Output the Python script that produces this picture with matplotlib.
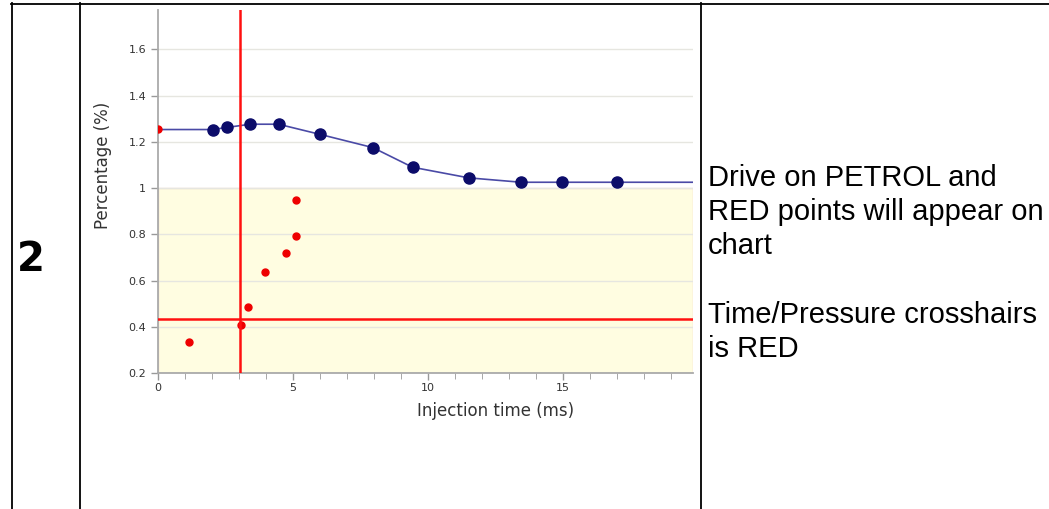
import matplotlib.pyplot as plt
from matplotlib.ticker import MultipleLocator, FuncFormatter

# Data
map_time = [0, 2.02, 2.54, 3.42, 4.46, 6.0, 7.95, 9.42, 11.5, 13.44, 14.97, 16.99, 19.8]
map_pct = [1.253, 1.253, 1.262, 1.276, 1.276, 1.232, 1.175, 1.09, 1.044, 1.025, 1.025, 1.025, 1.025]
map_pts_time = map_time[1:-1]
map_pts_pct = map_pct[1:-1]

red_time = [0, 1.15, 3.08, 3.32, 3.95, 4.74, 5.1, 5.1]
red_pct = [1.255, 0.332, 0.406, 0.485, 0.638, 0.717, 0.791, 0.948]

cross_time = 3.05
cross_pct = 0.432

y_ticks = [0.2, 0.4, 0.6, 0.8, 1.0, 1.2, 1.4, 1.6]
x_ticks = [0, 5, 10, 15]

note_text = ("Drive on PETROL and\nRED points will appear on\nchart\n\n"
             "Time/Pressure crosshairs\nis RED")
row_label = "2"

W, H = 1049, 509
fig = plt.figure(figsize=(W / 100, H / 100), dpi=100)

# table borders
def hline(y, x0, x1):
    fig.add_artist(plt.Line2D([x0 / W, x1 / W], [1 - y / H, 1 - y / H], color='black', lw=1.3))

def vline(x, y0, y1):
    fig.add_artist(plt.Line2D([x / W, x / W], [1 - y0 / H, 1 - y1 / H], color='black', lw=1.3))

hline(3.5, 11, W)
vline(11.5, 3, H)
vline(79.5, 3, H)
vline(700.5, 3, H)

fig.text(31 / W, 1 - 260 / H, row_label, ha='center', va='center',
         fontsize=29, fontweight='bold', family='DejaVu Sans')
fig.text(708 / W, 1 - 164 / H, note_text, ha='left', va='top',
         fontsize=21, family='Liberation Sans', linespacing=1.28)

# chart
ax = fig.add_axes([158 / W, 1 - 373 / H, (693 - 158) / W, (373 - 10) / H])
ax.set_xlim(0, 19.8)
ax.set_ylim(0.2, 1.77)

ax.axhspan(0.2, 1.0, facecolor='#fffde1', edgecolor='#f0d8cc', lw=1, zorder=0)
for y in y_ticks[1:]:
    ax.axhline(y, color='#e6e6e0', lw=1, zorder=1)

ax.plot(map_time, map_pct, color='#4a4aa6', lw=1.2, zorder=3)
ax.plot(map_pts_time, map_pts_pct, 'o', color='#0c0c6a', ms=8, zorder=4)
ax.plot(red_time, red_pct, 'o', color='#ee0000', ms=5, zorder=5)

ax.axvline(cross_time, color='#ff1010', lw=1.8, zorder=6)
ax.axhline(cross_pct, color='#ff1010', lw=1.8, zorder=6)

ax.set_xticks(x_ticks)
ax.set_yticks(y_ticks)
ax.xaxis.set_minor_locator(MultipleLocator(1))
ax.yaxis.set_major_formatter(FuncFormatter(lambda v, p: f"{v:g}"))
ax.tick_params(axis='both', labelsize=8, colors='#999999', labelcolor='#333333', length=5, width=1)
ax.tick_params(axis='x', which='minor', length=4, colors='#999999')
ax.tick_params(axis='x', pad=2)

for s in ['top', 'right']:
    ax.spines[s].set_visible(False)
for s in ['left', 'bottom']:
    ax.spines[s].set_color('#aaaaaa')
    ax.spines[s].set_linewidth(1.3)

# the chart is cropped by the table cell, so labels sit off-centre
ax.set_xlabel("Injection time (ms)", fontsize=12, color='#333333')
ax.set_ylabel("Percentage (%)", fontsize=12, color='#333333')
ax.xaxis.set_label_coords((496 - 158) / 535, -(411 - 373) / 363, transform=ax.transAxes)
ax.yaxis.set_label_coords(-(158 - 103) / 535, (373 - 165) / 363, transform=ax.transAxes)
ax.xaxis.label.set_va('center')
ax.yaxis.label.set_va('center')

fig.savefig("out.png", dpi=100)
